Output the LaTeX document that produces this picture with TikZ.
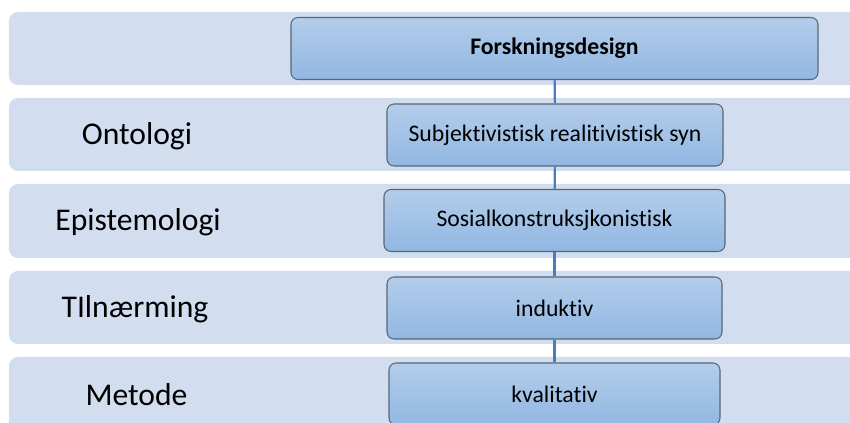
\documentclass[tikz,border=0pt]{standalone}
\usepackage{fontspec}
\setmainfont{Carlito}[Ligatures=NoCommon]
\usetikzlibrary{positioning}
\definecolor{bandfill}{RGB}{210,222,239}
\definecolor{boxtop}{RGB}{180,205,234}
\definecolor{boxbottom}{RGB}{145,183,226}
\definecolor{boxline}{RGB}{88,102,120}
\definecolor{linkblue}{RGB}{74,126,187}

\tikzset{
  stepbox/.style={draw=boxline, line width=0.6pt, rectangle, rounded corners=4pt,
    top color=boxtop, bottom color=boxbottom, inner sep=0pt,
    minimum height=1.24cm, font=\fontsize{13.5}{16}\selectfont, align=center},
  levellabel/.style={font=\fontsize{18}{21}\selectfont, anchor=center},
  link/.style={draw=linkblue, line width=1.2pt}
}

\begin{document}
\begin{tikzpicture}
  \useasboundingbox (0,0) rectangle (17,8.46);

  % Background bands - drawn first
  \fill[bandfill, rounded corners=5pt] (0.18,6.76) rectangle (17.3,8.22);
  \fill[bandfill, rounded corners=5pt] (0.18,5.04) rectangle (17.3,6.50);
  \fill[bandfill, rounded corners=5pt] (0.18,3.30) rectangle (17.3,4.78);
  \fill[bandfill, rounded corners=5pt] (0.18,1.58) rectangle (17.3,3.04);
  \fill[bandfill, rounded corners=5pt] (0.18,-0.2) rectangle (17.3,1.32);

  % Level labels
  \node[levellabel] (ontologi) at (2.74,5.74) {Ontologi};
  \node[levellabel] (epistemologi) at (2.76,4.01) {Epistemologi};
  \node[levellabel] (tilnaerming) at (2.70,2.28) {TIlnærming};
  \node[levellabel] (metode) at (2.73,0.57) {Metode};

  % Boxes
  \node[stepbox, minimum width=10.54cm, font=\fontsize{13.5}{16}\selectfont\bfseries] (design) at (11.09,7.49) {Forskningsdesign};
  \node[stepbox, minimum width=6.72cm] (ontbox) at (11.10,5.76) {Subjektivistisk realitivistisk syn};
  \node[stepbox, minimum width=6.82cm] (epibox) at (11.09,4.05) {Sosialkonstruksjkonistisk};
  \node[stepbox, minimum width=6.70cm] (tilbox) at (11.09,2.30) {induktiv};
  \node[stepbox, minimum width=6.62cm] (metbox) at (11.09,0.58) {kvalitativ};

  % Connectors
  \draw[link] (design) -- (ontbox);
  \draw[link] (ontbox) -- (epibox);
  \draw[link] (epibox) -- (tilbox);
  \draw[link] (tilbox) -- (metbox);
\end{tikzpicture}
\end{document}
